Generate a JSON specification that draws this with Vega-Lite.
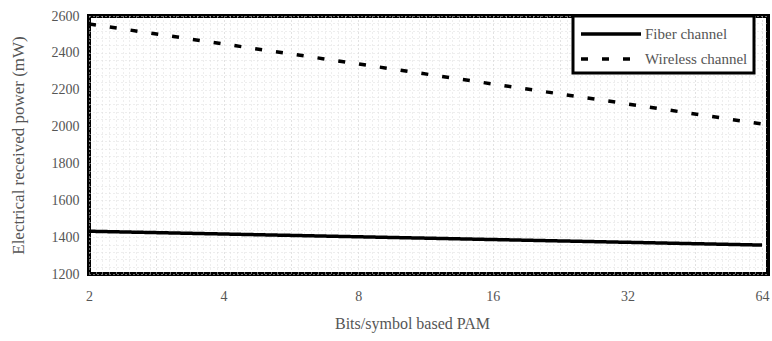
{
  "$schema": "https://vega.github.io/schema/vega-lite/v6.json",
  "width": 679,
  "height": 258,
  "autosize": {"type": "none"},
  "padding": {"left": 89, "top": 16, "right": 4, "bottom": 67},
  "background": "white",
  "config": {
    "view": {"stroke": "black", "strokeWidth": 4},
    "font": "Liberation Serif",
    "axis": {"domain": false, "ticks": false, "labelFont": "Liberation Serif", "titleFont": "Liberation Serif", "labelColor": "#555", "titleColor": "#555", "titleFontWeight": "normal"}
  },
  "data": {
    "values": [
      {"channel": "Fiber channel", "bits": 2, "power": 1432},
      {"channel": "Fiber channel", "bits": 4, "power": 1417},
      {"channel": "Fiber channel", "bits": 8, "power": 1402},
      {"channel": "Fiber channel", "bits": 16, "power": 1387},
      {"channel": "Fiber channel", "bits": 32, "power": 1372},
      {"channel": "Fiber channel", "bits": 64, "power": 1357},
      {"channel": "Wireless channel", "bits": 2, "power": 2557},
      {"channel": "Wireless channel", "bits": 4, "power": 2448},
      {"channel": "Wireless channel", "bits": 8, "power": 2340},
      {"channel": "Wireless channel", "bits": 16, "power": 2231},
      {"channel": "Wireless channel", "bits": 32, "power": 2123},
      {"channel": "Wireless channel", "bits": 64, "power": 2014}
    ]
  },
  "mark": {"type": "line", "color": "black", "strokeWidth": 3.5, "clip": true},
  "encoding": {
    "x": {
      "field": "bits", "type": "quantitative",
      "scale": {"type": "log", "base": 2, "domain": [2, 66], "nice": false, "zero": false},
      "axis": {
        "title": "Bits/symbol based PAM",
        "titleFontSize": 16,
        "titleX": 323,
        "titlePadding": 12,
        "labelFontSize": 14,
        "labelPadding": 15,
        "labelFlush": false,
        "labelOverlap": false,
        "values": [2, 2.0706, 2.1436, 2.2192, 2.2974, 2.3784, 2.4623, 2.5491, 2.6390, 2.7321, 2.8284, 2.9282, 3.0314, 3.1383, 3.2490, 3.3636, 3.4822, 3.6050, 3.7321, 3.8638,
                   4, 4.1412, 4.2872, 4.4384, 4.5948, 4.7568, 4.9245, 5.0982, 5.2780, 5.4641, 5.6569, 5.8564, 6.0629, 6.2767, 6.4980, 6.7272, 6.9644, 7.2100, 7.4643, 7.7276,
                   8, 8.2824, 8.5744, 8.8768, 9.1896, 9.5136, 9.8488, 10.1964, 10.5560, 10.9280, 11.3137, 11.7128, 12.1256, 12.5536, 12.9960, 13.4544, 13.9288, 14.4200, 14.9288, 15.4552,
                   16, 16.5648, 17.1488, 17.7536, 18.3792, 19.0272, 19.6976, 20.3936, 21.1120, 21.8560, 22.6274, 23.4256, 24.2512, 25.1072, 25.9920, 26.9088, 27.8576, 28.8400, 29.8576, 30.9104,
                   32, 33.1296, 34.2976, 35.5072, 36.7584, 38.0544, 39.3952, 40.7872, 42.2240, 43.7120, 45.2548, 46.8512, 48.5024, 50.2144, 51.9840, 53.8176, 55.7152, 57.6800, 59.7152, 61.8208, 64],
        "labelExpr": "indexof([2,4,8,16,32,64], datum.value) >= 0 ? datum.value : ''",
        "gridColor": {"condition": {"test": "indexof([2,2.8284,4,5.6569,8,11.3137,16,22.6274,32,45.2548,64], datum.value) >= 0", "value": "#c4c4c4"}, "value": "#dddddd"},
        "gridDash": [1, 3],
        "gridWidth": 1
      }
    },
    "y": {
      "field": "power", "type": "quantitative",
      "scale": {"domain": [1200, 2600], "nice": false, "zero": false},
      "axis": {
        "title": "Electrical received power (mW)",
        "titleFontSize": 17,
        "titlePadding": 24,
        "labelFontSize": 14,
        "labelPadding": 10,
        "labelFlush": false,
        "labelOverlap": false,
        "values": [1200, 1240, 1280, 1320, 1360, 1400, 1440, 1480, 1520, 1560, 1600, 1640, 1680, 1720, 1760, 1800, 1840, 1880, 1920, 1960, 2000, 2040, 2080, 2120, 2160, 2200, 2240, 2280, 2320, 2360, 2400, 2440, 2480, 2520, 2560, 2600],
        "labelExpr": "datum.value % 200 === 0 ? datum.value : ''",
        "gridColor": "#dddddd",
        "gridDash": [1, 3]
      }
    },
    "strokeDash": {
      "field": "channel", "type": "nominal",
      "scale": {"domain": ["Fiber channel", "Wireless channel"], "range": [[1, 0], [7, 14]]},
      "legend": {
        "title": null,
        "orient": "none",
        "legendX": 484,
        "legendY": 0,
        "strokeColor": "black",
        "fillColor": "white",
        "padding": 6,
        "symbolType": "M-1,0H5",
        "symbolSize": 400,
        "symbolStrokeWidth": 3.5,
        "symbolStrokeColor": "black",
        "symbolFillColor": "transparent",
        "labelFontSize": 15,
        "labelFont": "Liberation Serif",
        "labelColor": "#555",
        "labelOffset": 42,
        "rowPadding": 5,
        "encode": {"legend": {"update": {"strokeWidth": {"value": 3}}}}
      }
    }
  }
}
